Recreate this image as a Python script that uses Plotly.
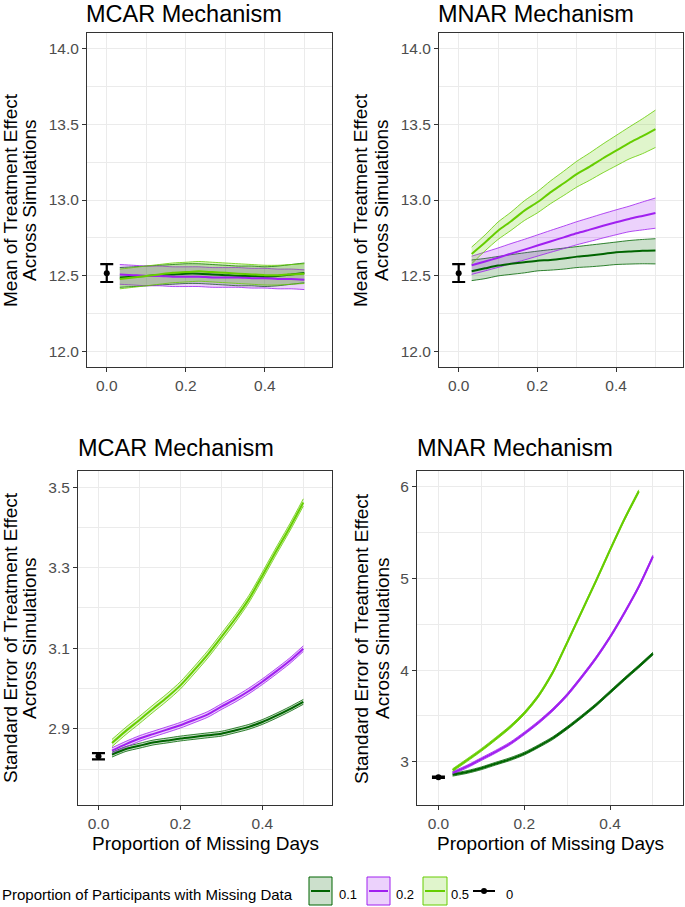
import plotly.graph_objects as go

# ---------------- data ----------------
missing_days = [0.033, 0.067, 0.1, 0.133, 0.167, 0.2, 0.233, 0.267, 0.3, 0.333,
                0.367, 0.4, 0.433, 0.467, 0.5]
missing_days_short = [0.033, 0.067, 0.1, 0.133, 0.167, 0.2, 0.233, 0.267, 0.3, 0.333,
                      0.367, 0.4, 0.433, 0.467]

group_labels = ["0.1", "0.2", "0.5"]
ref_label = "0"

# --- Mean of treatment effect, MCAR ---
mcar_mean_p01 = [12.49, 12.495, 12.50, 12.505, 12.51, 12.515, 12.515, 12.51, 12.505, 12.50, 12.50, 12.495, 12.50, 12.51, 12.52]
mcar_mean_p01_hi = [12.555, 12.56, 12.565, 12.57, 12.575, 12.58, 12.58, 12.575, 12.57, 12.565, 12.565, 12.56, 12.565, 12.575, 12.585]
mcar_mean_p01_lo = [12.425, 12.43, 12.435, 12.44, 12.445, 12.45, 12.45, 12.445, 12.44, 12.435, 12.435, 12.43, 12.435, 12.445, 12.455]
mcar_mean_p02 = [12.51, 12.505, 12.50, 12.50, 12.495, 12.495, 12.495, 12.49, 12.49, 12.49, 12.485, 12.485, 12.48, 12.48, 12.475]
mcar_mean_p02_hi = [12.575, 12.57, 12.565, 12.565, 12.56, 12.56, 12.56, 12.555, 12.555, 12.555, 12.55, 12.55, 12.545, 12.545, 12.54]
mcar_mean_p02_lo = [12.445, 12.44, 12.435, 12.435, 12.43, 12.43, 12.43, 12.425, 12.425, 12.425, 12.42, 12.42, 12.415, 12.415, 12.41]
mcar_mean_p05 = [12.48, 12.49, 12.50, 12.51, 12.52, 12.525, 12.53, 12.525, 12.52, 12.515, 12.51, 12.505, 12.505, 12.51, 12.515]
mcar_mean_p05_hi = [12.545, 12.555, 12.565, 12.575, 12.585, 12.59, 12.595, 12.59, 12.585, 12.58, 12.575, 12.57, 12.57, 12.575, 12.58]
mcar_mean_p05_lo = [12.415, 12.425, 12.435, 12.445, 12.455, 12.46, 12.465, 12.46, 12.455, 12.45, 12.445, 12.44, 12.44, 12.445, 12.45]

# --- Mean of treatment effect, MNAR ---
mnar_mean_p01 = [12.531, 12.55, 12.568, 12.58, 12.59, 12.60, 12.605, 12.615, 12.627, 12.635, 12.645, 12.656, 12.66, 12.665, 12.667]
mnar_mean_p01_hi = [12.605, 12.615, 12.628, 12.64, 12.652, 12.663, 12.673, 12.683, 12.693, 12.703, 12.713, 12.723, 12.733, 12.74, 12.745]
mnar_mean_p01_lo = [12.469, 12.482, 12.50, 12.51, 12.52, 12.533, 12.538, 12.545, 12.555, 12.56, 12.567, 12.575, 12.578, 12.58, 12.579]
mnar_mean_p02 = [12.57, 12.595, 12.62, 12.647, 12.673, 12.70, 12.727, 12.754, 12.781, 12.805, 12.83, 12.853, 12.875, 12.895, 12.914]
mnar_mean_p02_hi = [12.63, 12.657, 12.684, 12.713, 12.741, 12.77, 12.799, 12.828, 12.857, 12.883, 12.91, 12.935, 12.959, 12.987, 13.013]
mnar_mean_p02_lo = [12.51, 12.533, 12.556, 12.581, 12.605, 12.63, 12.655, 12.68, 12.705, 12.727, 12.75, 12.771, 12.791, 12.803, 12.814]
mnar_mean_p05 = [12.645, 12.72, 12.798, 12.86, 12.93, 12.985, 13.05, 13.11, 13.171, 13.22, 13.275, 13.325, 13.375, 13.42, 13.467]
mnar_mean_p05_hi = [12.69, 12.77, 12.855, 12.92, 12.995, 13.055, 13.125, 13.19, 13.255, 13.31, 13.37, 13.425, 13.48, 13.535, 13.592]
mnar_mean_p05_lo = [12.58, 12.665, 12.74, 12.80, 12.865, 12.915, 12.975, 13.03, 13.085, 13.13, 13.18, 13.225, 13.27, 13.305, 13.346]

# --- Standard error of treatment effect, MCAR ---
mcar_se_p01 = [2.836, 2.850, 2.858, 2.866, 2.871, 2.876, 2.880, 2.884, 2.888, 2.896, 2.905, 2.917, 2.932, 2.949, 2.967]
mcar_se_p01_hi = [2.842, 2.856, 2.864, 2.872, 2.877, 2.882, 2.886, 2.890, 2.894, 2.902, 2.911, 2.923, 2.938, 2.955, 2.973]
mcar_se_p01_lo = [2.830, 2.844, 2.852, 2.860, 2.865, 2.870, 2.874, 2.878, 2.882, 2.890, 2.899, 2.911, 2.926, 2.943, 2.961]
mcar_se_p02 = [2.846, 2.862, 2.876, 2.887, 2.898, 2.909, 2.922, 2.936, 2.955, 2.973, 2.994, 3.017, 3.042, 3.069, 3.099]
mcar_se_p02_hi = [2.853, 2.869, 2.883, 2.894, 2.905, 2.916, 2.929, 2.943, 2.962, 2.980, 3.001, 3.024, 3.049, 3.076, 3.106]
mcar_se_p02_lo = [2.839, 2.855, 2.869, 2.880, 2.891, 2.902, 2.915, 2.929, 2.948, 2.966, 2.987, 3.010, 3.035, 3.062, 3.092]
mcar_se_p05 = [2.865, 2.895, 2.922, 2.950, 2.978, 3.008, 3.045, 3.085, 3.128, 3.172, 3.222, 3.28, 3.34, 3.40, 3.462]
mcar_se_p05_hi = [2.874, 2.904, 2.931, 2.959, 2.987, 3.017, 3.054, 3.094, 3.137, 3.181, 3.231, 3.289, 3.349, 3.409, 3.471]
mcar_se_p05_lo = [2.856, 2.886, 2.913, 2.941, 2.969, 2.999, 3.036, 3.076, 3.119, 3.163, 3.213, 3.271, 3.331, 3.391, 3.453]

# --- Standard error of treatment effect, MNAR ---
mnar_se_p01 = [2.86, 2.89, 2.93, 2.98, 3.03, 3.09, 3.17, 3.26, 3.37, 3.49, 3.62, 3.76, 3.90, 4.04, 4.18]
mnar_se_p01_hi = [2.875, 2.905, 2.945, 2.995, 3.045, 3.105, 3.185, 3.275, 3.385, 3.505, 3.635, 3.775, 3.915, 4.055, 4.195]
mnar_se_p01_lo = [2.845, 2.875, 2.915, 2.965, 3.015, 3.075, 3.155, 3.245, 3.355, 3.475, 3.605, 3.745, 3.885, 4.025, 4.165]
mnar_se_p02 = [2.88, 2.95, 3.03, 3.11, 3.20, 3.31, 3.43, 3.57, 3.73, 3.92, 4.13, 4.36, 4.62, 4.91, 5.24]
mnar_se_p02_hi = [2.895, 2.965, 3.045, 3.125, 3.215, 3.325, 3.445, 3.585, 3.745, 3.935, 4.145, 4.375, 4.635, 4.925, 5.255]
mnar_se_p02_lo = [2.865, 2.935, 3.015, 3.095, 3.185, 3.295, 3.415, 3.555, 3.715, 3.905, 4.115, 4.345, 4.605, 4.895, 5.225]
mnar_se_p05 = [2.91, 3.02, 3.13, 3.25, 3.38, 3.53, 3.72, 3.98, 4.30, 4.63, 4.97, 5.31, 5.64, 5.95]
mnar_se_p05_hi = [2.925, 3.035, 3.145, 3.265, 3.395, 3.545, 3.735, 3.995, 4.315, 4.645, 4.985, 5.325, 5.655, 5.965]
mnar_se_p05_lo = [2.895, 3.005, 3.115, 3.235, 3.365, 3.515, 3.705, 3.965, 4.285, 4.615, 4.955, 5.295, 5.625, 5.935]

# --- Complete-data reference (proportion 0) ---
ref_x = [0.0]
ref_mean_est = [12.518]
ref_mean_lo = [12.46]
ref_mean_hi = [12.578]
ref_se_est = [2.832]
ref_se_lo = [2.824]
ref_se_hi = [2.840]

# tick labels
x_ticks = [0.0, 0.2, 0.4]
x_minor = [0.1, 0.3, 0.5]
mean_ticks = [12.0, 12.5, 13.0, 13.5, 14.0]
mean_minor = [12.25, 12.75, 13.25, 13.75]
mcar_se_ticks = [2.9, 3.1, 3.3, 3.5]
mcar_se_minor = [2.8, 3.0, 3.2, 3.4]
mnar_se_ticks = [3, 4, 5, 6]
mnar_se_minor = [3.5, 4.5, 5.5]

# ---------------- styling ----------------
W, H = 685, 907
FONT = "Liberation Sans, Arial, sans-serif"
COLORS = {"0.1": "#006400", "0.2": "#A020F0", "0.5": "#66CD00"}
FILLS = {"0.1": "rgba(0,100,0,0.2)", "0.2": "rgba(160,32,240,0.2)", "0.5": "rgba(102,205,0,0.2)"}
FILL_SOLID = {"0.1": "#CCE0CC", "0.2": "#ECD2FC", "0.5": "#E0F5CC"}
GRID = "#EBEBEB"


def px(x):
    return x / W


def py(y):
    return 1 - y / H


panels = [
    dict(sfx="", box=(87, 332, 33, 367), title="MCAR Mechanism",
         yrange=[11.9, 14.1], yticks=mean_ticks, yminor=mean_minor, yfmt=".1f",
         ytitle=("Mean of Treatment Effect", "Across Simulations"), ytx=(10, 29),
         series=[(missing_days, mcar_mean_p01, mcar_mean_p01_lo, mcar_mean_p01_hi),
                 (missing_days, mcar_mean_p02, mcar_mean_p02_lo, mcar_mean_p02_hi),
                 (missing_days, mcar_mean_p05, mcar_mean_p05_lo, mcar_mean_p05_hi)],
         ref=(ref_mean_est, ref_mean_lo, ref_mean_hi), xtitle=False),
    dict(sfx="2", box=(439, 683, 33, 367), title="MNAR Mechanism",
         yrange=[11.9, 14.1], yticks=mean_ticks, yminor=mean_minor, yfmt=".1f",
         ytitle=("Mean of Treatment Effect", "Across Simulations"), ytx=(360, 381),
         series=[(missing_days, mnar_mean_p01, mnar_mean_p01_lo, mnar_mean_p01_hi),
                 (missing_days, mnar_mean_p02, mnar_mean_p02_lo, mnar_mean_p02_hi),
                 (missing_days, mnar_mean_p05, mnar_mean_p05_lo, mnar_mean_p05_hi)],
         ref=(ref_mean_est, ref_mean_lo, ref_mean_hi), xtitle=False),
    dict(sfx="3", box=(78, 332, 471, 805), title="MCAR Mechanism",
         yrange=[2.711, 3.54], yticks=mcar_se_ticks, yminor=mcar_se_minor, yfmt=".1f",
         ytitle=("Standard Error of Treatment Effect", "Across Simulations"), ytx=(10, 29),
         series=[(missing_days, mcar_se_p01, mcar_se_p01_lo, mcar_se_p01_hi),
                 (missing_days, mcar_se_p02, mcar_se_p02_lo, mcar_se_p02_hi),
                 (missing_days, mcar_se_p05, mcar_se_p05_lo, mcar_se_p05_hi)],
         ref=(ref_se_est, ref_se_lo, ref_se_hi), xtitle=True),
    dict(sfx="4", box=(417, 683, 471, 805), title="MNAR Mechanism",
         yrange=[2.53, 6.17], yticks=mnar_se_ticks, yminor=mnar_se_minor, yfmt="d",
         ytitle=("Standard Error of Treatment Effect", "Across Simulations"), ytx=(361, 382),
         series=[(missing_days, mnar_se_p01, mnar_se_p01_lo, mnar_se_p01_hi),
                 (missing_days, mnar_se_p02, mnar_se_p02_lo, mnar_se_p02_hi),
                 (missing_days_short, mnar_se_p05, mnar_se_p05_lo, mnar_se_p05_hi)],
         ref=(ref_se_est, ref_se_lo, ref_se_hi), xtitle=True),
]

fig = go.Figure()
layout = dict(
    width=W, height=H, margin=dict(l=0, r=0, t=0, b=0),
    paper_bgcolor="white", plot_bgcolor="white", showlegend=False,
    font=dict(family=FONT, color="black"),
    annotations=[], shapes=[],
)

for p in panels:
    sfx = p["sfx"]
    xa, ya = "x" + sfx, "y" + sfx
    x0, x1, ytop, ybot = p["box"]
    # ribbons
    for lab, (xs, m, lo, hi) in zip(group_labels, p["series"]):
        fig.add_trace(go.Scatter(x=xs, y=lo, mode="lines", xaxis=xa, yaxis=ya,
                                 line=dict(color=COLORS[lab], width=0.8, shape="spline", smoothing=0.7),
                                 hoverinfo="skip"))
        fig.add_trace(go.Scatter(x=xs, y=hi, mode="lines", xaxis=xa, yaxis=ya, fill="tonexty",
                                 fillcolor=FILLS[lab],
                                 line=dict(color=COLORS[lab], width=0.8, shape="spline", smoothing=0.7),
                                 hoverinfo="skip"))
    # mean lines
    for lab, (xs, m, lo, hi) in zip(group_labels, p["series"]):
        fig.add_trace(go.Scatter(x=xs, y=m, mode="lines", xaxis=xa, yaxis=ya, name=lab,
                                 line=dict(color=COLORS[lab], width=2, shape="spline", smoothing=0.7)))
    # reference point with error bar
    est, lo, hi = p["ref"]
    fig.add_trace(go.Scatter(
        x=ref_x, y=est, mode="markers", xaxis=xa, yaxis=ya, name=ref_label,
        marker=dict(color="black", size=6),
        error_y=dict(type="data", symmetric=False,
                     array=[h - e for h, e in zip(hi, est)],
                     arrayminus=[e - l for e, l in zip(est, lo)],
                     color="black", thickness=2.2, width=6.5)))

    axis_common = dict(showline=True, mirror=True, linecolor="#333333", linewidth=1,
                       ticks="outside", ticklen=4, tickwidth=1, tickcolor="#333333",
                       tickfont=dict(family=FONT, size=15.5, color="#4D4D4D"),
                       showgrid=True, gridcolor=GRID, gridwidth=1.1, zeroline=False)
    layout["xaxis" + sfx] = dict(
        axis_common, domain=[px(x0), px(x1)], anchor=ya, range=[-0.05, 0.57],
        tickmode="array", tickvals=x_ticks, tickformat=".1f",
        minor=dict(tickvals=x_minor, showgrid=True, gridcolor=GRID, gridwidth=0.6, ticks=""))
    layout["yaxis" + sfx] = dict(
        axis_common, domain=[py(ybot), py(ytop)], anchor=xa, range=p["yrange"],
        tickmode="array", tickvals=p["yticks"], tickformat=p["yfmt"],
        minor=dict(tickvals=p["yminor"], showgrid=True, gridcolor=GRID, gridwidth=0.6, ticks=""))

    # panel title
    if ytop < 100:
        layout["annotations"].append(dict(
            text=p["title"], xref="paper", yref="paper", x=px(x0 - 2), y=py(0.3),
            xanchor="left", yanchor="top", showarrow=False, borderpad=0,
            font=dict(family=FONT, size=23.5, color="black")))
    else:
        layout["annotations"].append(dict(
            text=p["title"], xref="paper", yref="paper", x=px(x0 - 2), y=py(448),
            xanchor="left", yanchor="middle", showarrow=False,
            font=dict(family=FONT, size=23.5, color="black")))
    # y-axis title (two lines)
    yc = (ytop + ybot) / 2
    for txt, tx in zip(p["ytitle"], p["ytx"]):
        layout["annotations"].append(dict(
            text=txt, xref="paper", yref="paper", x=px(tx), y=py(yc),
            xanchor="center", yanchor="middle", textangle=-90, showarrow=False,
            font=dict(family=FONT, size=19, color="black")))
    if p["xtitle"]:
        layout["annotations"].append(dict(
            text="Proportion of Missing Days", xref="paper", yref="paper",
            x=px((x0 + x1) / 2), y=py(843), xanchor="center", yanchor="middle",
            showarrow=False, font=dict(family=FONT, size=19, color="black")))

# ---------------- legend (ggplot-style, bottom) ----------------
leg_y = 891
layout["annotations"].append(dict(
    text="Proportion of Participants with Missing Data", xref="paper", yref="paper",
    x=px(0), y=py(894), xanchor="left", yanchor="middle", showarrow=False,
    font=dict(family=FONT, size=15, color="black")))
key_boxes = {"0.1": (309, 332), "0.2": (367, 390), "0.5": (423, 447)}
key_text_x = {"0.1": 337, "0.2": 394, "0.5": 449}
for lab in group_labels:
    bx0, bx1 = key_boxes[lab]
    layout["shapes"].append(dict(type="rect", xref="paper", yref="paper",
                                 x0=px(bx0), x1=px(bx1), y0=py(905), y1=py(877),
                                 fillcolor=FILL_SOLID[lab], line=dict(color=COLORS[lab], width=1)))
    layout["shapes"].append(dict(type="line", xref="paper", yref="paper",
                                 x0=px(bx0 + 2), x1=px(bx1 - 2), y0=py(leg_y), y1=py(leg_y),
                                 line=dict(color=COLORS[lab], width=2)))
    layout["annotations"].append(dict(
        text=lab, xref="paper", yref="paper", x=px(key_text_x[lab]), y=py(894),
        xanchor="left", yanchor="middle", showarrow=False,
        font=dict(family=FONT, size=13, color="black")))
layout["shapes"].append(dict(type="line", xref="paper", yref="paper",
                             x0=px(473), x1=px(495), y0=py(leg_y), y1=py(leg_y),
                             line=dict(color="black", width=2)))
layout["shapes"].append(dict(type="circle", xref="paper", yref="paper",
                             x0=px(481), x1=px(487), y0=py(leg_y + 3), y1=py(leg_y - 3),
                             fillcolor="black", line=dict(color="black", width=0)))
layout["annotations"].append(dict(
    text=ref_label, xref="paper", yref="paper", x=px(504), y=py(894),
    xanchor="left", yanchor="middle", showarrow=False,
    font=dict(family=FONT, size=13, color="black")))

fig.update_layout(**layout)
fig.write_html("out.html", config={"displayModeBar": False},
               post_script="document.body.style.margin='0';")
